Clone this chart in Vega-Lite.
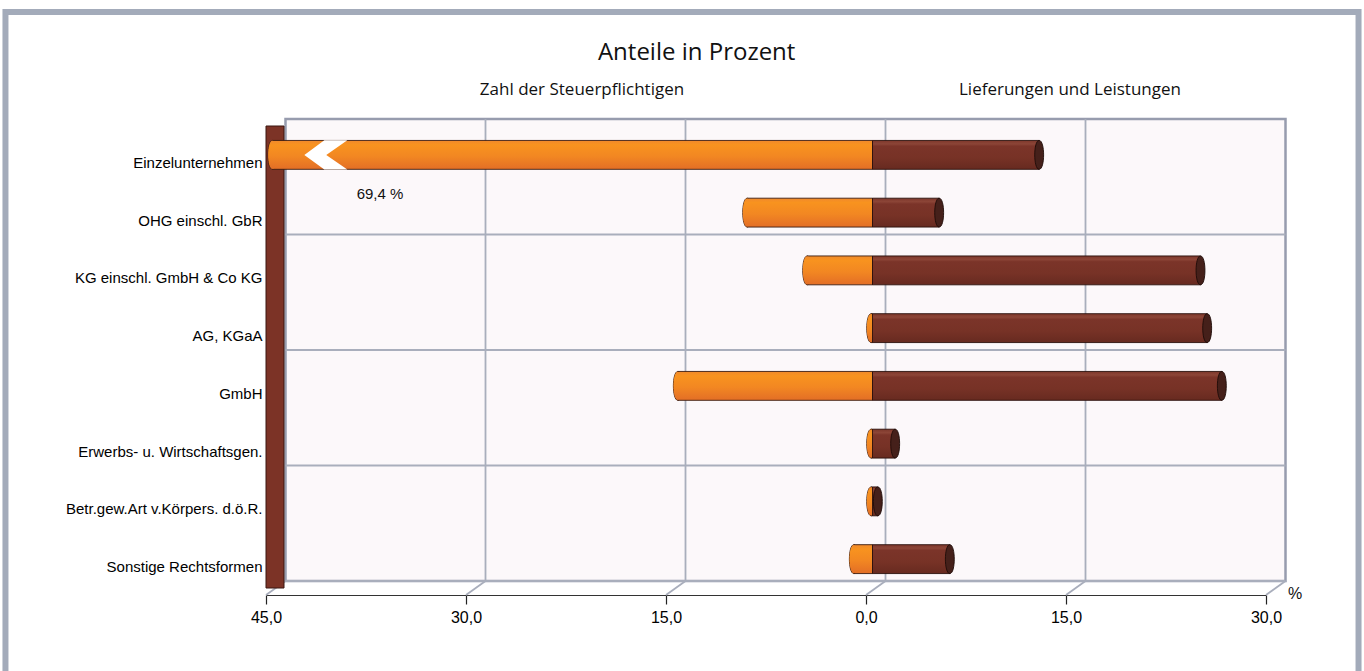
{
  "$schema": "https://vega.github.io/schema/vega-lite/v6.json",
  "width": 1000,
  "height": 462,
  "autosize": "none",
  "padding": {"left": 266, "top": 133, "right": 98, "bottom": 76},
  "background": "#ffffff",
  "config": {"view": {"stroke": null}, "font": "Liberation Sans"},
  "layer": [
    {
      "data": {"values": [{}]},
      "layer": [
        {
          "mark": {"type": "rect", "fill": "transparent", "stroke": "#a3abba", "strokeWidth": 6},
          "encoding": {
            "x": {"datum": -64.54, "type": "quantitative", "scale": {"domain": [-45, 30], "nice": false, "zero": false}, "axis": null},
            "x2": {"datum": 36.94},
            "y": {"datum": 1.262, "type": "quantitative", "scale": {"domain": [0, 1], "nice": false, "zero": false}, "axis": null},
            "y2": {"datum": -0.4}
          }
        },
        {
          "mark": {"type": "rect", "fill": "#fcf8fa", "stroke": "#979cae", "strokeWidth": 2.5, "xOffset": 19.5, "x2Offset": 19.5, "yOffset": -14, "y2Offset": -14},
          "encoding": {
            "x": {"datum": -45, "type": "quantitative"},
            "x2": {"datum": 30},
            "y": {"datum": 0, "type": "quantitative"},
            "y2": {"datum": 1}
          }
        },
        {
          "data": {"values": [{"v": -30}, {"v": -15}, {"v": 0}, {"v": 15}]},
          "mark": {"type": "rule", "color": "#a9aebc", "strokeWidth": 1.8, "xOffset": 19.5, "yOffset": -14, "y2Offset": -14},
          "encoding": {
            "x": {"field": "v", "type": "quantitative"},
            "y": {"datum": 0, "type": "quantitative"},
            "y2": {"datum": 1}
          }
        },
        {
          "data": {"values": [{"h": 0}, {"h": 0.25}, {"h": 0.5}, {"h": 0.75}]},
          "mark": {"type": "rule", "color": "#a9aebc", "strokeWidth": 1.8, "xOffset": 19.5, "x2Offset": 19.5, "yOffset": -14},
          "encoding": {
            "x": {"datum": -45, "type": "quantitative"},
            "x2": {"datum": 30},
            "y": {"field": "h", "type": "quantitative"}
          }
        },
        {
          "data": {"values": [{"v": -45}, {"v": -30}, {"v": -15}, {"v": 0}, {"v": 15}, {"v": 30}]},
          "mark": {"type": "rule", "color": "#a9aebc", "strokeWidth": 1.8, "x2Offset": 19.5, "y2Offset": -14},
          "encoding": {
            "x": {"field": "v", "type": "quantitative"},
            "x2": {"field": "v"},
            "y": {"datum": 0, "type": "quantitative"},
            "y2": {"datum": 0}
          }
        },
        {
          "mark": {"type": "rect", "fill": "#7c3326", "stroke": "#3a1710", "strokeWidth": 1, "x2Offset": 18, "yOffset": -7, "y2Offset": -7},
          "encoding": {
            "x": {"datum": -45, "type": "quantitative"},
            "x2": {"datum": -45},
            "y": {"datum": 0, "type": "quantitative"},
            "y2": {"datum": 1}
          }
        },
        {
          "mark": {"type": "text", "text": "Anteile in Prozent", "font": "Open Sans", "fontSize": 24, "color": "#111111", "align": "center", "baseline": "middle"},
          "encoding": {
            "x": {"datum": -12.7, "type": "quantitative"},
            "y": {"datum": 1.173, "type": "quantitative"}
          }
        },
        {
          "mark": {"type": "text", "text": "Zahl der Steuerpflichtigen", "font": "Open Sans", "fontSize": 17, "color": "#111111", "align": "center", "baseline": "middle"},
          "encoding": {
            "x": {"datum": -21.3, "type": "quantitative"},
            "y": {"datum": 1.093, "type": "quantitative"}
          }
        },
        {
          "mark": {"type": "text", "text": "Lieferungen und Leistungen", "font": "Open Sans", "fontSize": 17, "color": "#111111", "align": "center", "baseline": "middle"},
          "encoding": {
            "x": {"datum": 15.3, "type": "quantitative"},
            "y": {"datum": 1.093, "type": "quantitative"}
          }
        },
        {
          "mark": {"type": "text", "text": "%", "fontSize": 16, "color": "#111111", "align": "center", "baseline": "middle"},
          "encoding": {
            "x": {"datum": 32.18, "type": "quantitative"},
            "y": {"datum": 0.002, "type": "quantitative"}
          }
        }
      ]
    },
    {
      "data": {
        "values": [
          {"form": "Einzelunternehmen", "zahl": -69.4, "lief": 12.5, "label": "69,4 %"},
          {"form": "OHG einschl. GbR", "zahl": -9.4, "lief": 5.0},
          {"form": "KG einschl. GmbH & Co KG", "zahl": -4.9, "lief": 24.6},
          {"form": "AG, KGaA", "zahl": -0.1, "lief": 25.1},
          {"form": "GmbH", "zahl": -14.6, "lief": 26.2},
          {"form": "Erwerbs- u. Wirtschaftsgen.", "zahl": -0.1, "lief": 1.7},
          {"form": "Betr.gew.Art v.Körpers. d.ö.R.", "zahl": -0.1, "lief": 0.4},
          {"form": "Sonstige Rechtsformen", "zahl": -1.4, "lief": 5.8}
        ]
      },
      "encoding": {
        "y": {
          "field": "form",
          "type": "nominal",
          "sort": null,
          "title": null,
          "scale": {"paddingInner": 0.5, "paddingOuter": 0.25},
          "axis": {"orient": "left", "domain": false, "ticks": false, "labelPadding": 4, "labelFontSize": 15, "labelColor": "#000000", "labelLimit": 400, "labelFont": "Liberation Sans", "labelOffset": 1}
        }
      },
      "layer": [
        {
          "mark": {"type": "point", "shape": "M0,-1C0.41,-1,0.41,1,0,1C-0.41,1,-0.41,-1,0,-1Z", "size": 835, "filled": true, "fill": "#f08524", "stroke": "#3b1c10", "strokeWidth": 0.9, "opacity": 1, "xOffset": 6.5, "yOffset": -7},
          "encoding": {
            "x": {
              "field": "zahl",
              "type": "quantitative",
              "title": null,
              "scale": {"domain": [-45, 30], "clamp": true, "nice": false, "zero": false},
              "axis": {
                "orient": "bottom",
                "values": [-45, -30, -15, 0, 15, 30],
                "labelExpr": "replace(format(abs(datum.value), '.1f'), '.', ',')",
                "grid": false,
                "domainColor": "#333333",
                "domainWidth": 1.2,
                "tickColor": "#222222",
                "tickSize": 9,
                "tickWidth": 1.2,
                "labelFontSize": 16,
                "labelColor": "#000000",
                "labelPadding": 5,
                "labelFlush": false,
                "labelOverlap": false,
                "labelFont": "Liberation Sans"
              }
            }
          }
        },
        {
          "mark": {
            "type": "bar",
            "xOffset": 6.5,
            "x2Offset": 6.5,
            "yOffset": -7,
            "stroke": "#3b1c10",
            "strokeWidth": 0.9,
            "fill": {"gradient": "linear", "x1": 0, "y1": 0, "x2": 0, "y2": 1, "stops": [
              {"offset": 0, "color": "#f0892c"},
              {"offset": 0.15, "color": "#f8931f"},
              {"offset": 0.55, "color": "#f28722"},
              {"offset": 1, "color": "#e36e26"}
            ]}
          },
          "encoding": {
            "x": {"field": "zahl", "type": "quantitative"},
            "x2": {"datum": 0}
          }
        },
        {
          "mark": {"type": "point", "shape": "M0,-0.97C0.4,-0.97,0.4,0.97,0,0.97C-0.4,0.97,-0.4,-0.97,0,-0.97Z", "size": 835, "filled": true, "strokeWidth": 0, "opacity": 1, "xOffset": 6.5, "yOffset": -7,
            "fill": {"gradient": "linear", "x1": 0, "y1": 0, "x2": 0, "y2": 1, "stops": [
              {"offset": 0, "color": "#f0892c"},
              {"offset": 0.15, "color": "#f8931f"},
              {"offset": 0.55, "color": "#f28722"},
              {"offset": 1, "color": "#e36e26"}
            ]}
          },
          "encoding": {
            "x": {"field": "zahl", "type": "quantitative"}
          }
        },
        {
          "mark": {
            "type": "bar",
            "xOffset": 6.5,
            "x2Offset": 6.5,
            "yOffset": -7,
            "stroke": "#2a100b",
            "strokeWidth": 0.9,
            "fill": {"gradient": "linear", "x1": 0, "y1": 0, "x2": 0, "y2": 1, "stops": [
              {"offset": 0, "color": "#7d372b"},
              {"offset": 0.12, "color": "#8c4537"},
              {"offset": 0.2, "color": "#7b3429"},
              {"offset": 0.6, "color": "#773226"},
              {"offset": 1, "color": "#672a20"}
            ]}
          },
          "encoding": {
            "x": {"field": "lief", "type": "quantitative"},
            "x2": {"datum": 0}
          }
        },
        {
          "mark": {"type": "point", "shape": "M0,-1C0.41,-1,0.41,1,0,1C-0.41,1,-0.41,-1,0,-1Z", "size": 835, "filled": true, "fill": "#45201a", "stroke": "#1e0b08", "strokeWidth": 0.9, "opacity": 1, "xOffset": 6.5, "yOffset": -7},
          "encoding": {
            "x": {"field": "lief", "type": "quantitative"}
          }
        },
        {
          "transform": [{"filter": "datum.form == 'Einzelunternehmen'"}],
          "mark": {"type": "point", "shape": "M-0.07,-0.68L-1,0L-0.07,0.68L1,0.68L0.02,0L1,-0.68Z", "size": 1849, "filled": true, "fill": "#ffffff", "strokeWidth": 0, "opacity": 1, "xOffset": 6.5, "yOffset": -7},
          "encoding": {
            "x": {"datum": -41, "type": "quantitative"}
          }
        },
        {
          "transform": [{"filter": "isValid(datum.label)"}],
          "mark": {"type": "text", "fontSize": 15, "color": "#111111", "align": "center", "baseline": "middle", "dy": 32},
          "encoding": {
            "x": {"datum": -36.45, "type": "quantitative"},
            "text": {"field": "label"}
          }
        }
      ]
    }
  ],
  "resolve": {"scale": {"x": "independent", "y": "independent"}}
}
